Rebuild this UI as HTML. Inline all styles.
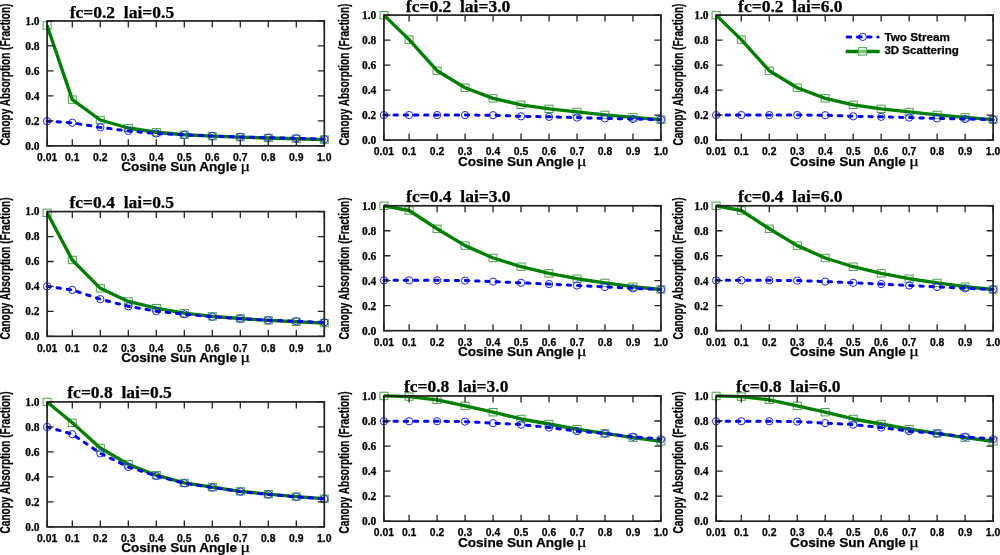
<!DOCTYPE html><html><head><meta charset="utf-8"><style>html,body{margin:0;padding:0;background:#fff;}svg{display:block;filter:blur(0.3px)}.sb{font-family:"Liberation Sans",sans-serif;font-weight:bold}text{stroke:#000;stroke-width:0.25;stroke-linejoin:round}.rb{font-family:"Liberation Serif",serif;font-weight:bold}.rr{font-family:"Liberation Serif",serif;font-weight:normal}</style></head><body>
<svg width="1000" height="555" viewBox="0 0 1000 555">
<rect width="1000" height="555" fill="#fff"/>
<g fill="none" stroke="#4aa44a" stroke-width="1.0"><rect x="43.10" y="21.74" width="8.0" height="7.4"/><rect x="68.30" y="95.95" width="8.0" height="7.4"/><rect x="96.30" y="116.31" width="8.0" height="7.4"/><rect x="124.30" y="124.31" width="8.0" height="7.4"/><rect x="152.30" y="128.55" width="8.0" height="7.4"/><rect x="180.30" y="131.05" width="8.0" height="7.4"/><rect x="208.30" y="132.43" width="8.0" height="7.4"/><rect x="236.30" y="133.42" width="8.0" height="7.4"/><rect x="264.30" y="134.30" width="8.0" height="7.4"/><rect x="292.30" y="135.05" width="8.0" height="7.4"/><rect x="320.30" y="135.92" width="8.0" height="7.4"/></g>
<polyline points="47.10,25.44 72.30,99.65 100.30,120.01 128.30,128.01 156.30,132.25 184.30,134.75 212.30,136.13 240.30,137.12 268.30,138.00 296.30,138.75 324.30,139.62" fill="none" stroke="#008000" stroke-width="3.35" stroke-linejoin="round"/>
<g fill="none" stroke="#2020ff" stroke-width="1.0"><circle cx="47.10" cy="121.13" r="3.65"/><circle cx="72.30" cy="122.76" r="3.65"/><circle cx="100.30" cy="127.38" r="3.65"/><circle cx="128.30" cy="131.00" r="3.65"/><circle cx="156.30" cy="133.50" r="3.65"/><circle cx="184.30" cy="134.88" r="3.65"/><circle cx="212.30" cy="136.00" r="3.65"/><circle cx="240.30" cy="137.00" r="3.65"/><circle cx="268.30" cy="137.75" r="3.65"/><circle cx="296.30" cy="138.37" r="3.65"/><circle cx="324.30" cy="139.12" r="3.65"/></g>
<polyline points="47.10,121.13 72.30,122.76 100.30,127.38 128.30,131.00 156.30,133.50 184.30,134.88 212.30,136.00 240.30,137.00 268.30,137.75 296.30,138.37 324.30,139.12" fill="none" stroke="#0000ff" stroke-width="3.0" stroke-dasharray="3.4 6.8" stroke-dashoffset="0.13" stroke-linejoin="round" stroke-linecap="round"/>
<rect x="47.10" y="20.94" width="277.20" height="124.93" fill="none" stroke="#222" stroke-width="1.7"/>
<path d="M47.10 20.94v6.5M47.10 145.87v-6.5M72.30 20.94v6.5M72.30 145.87v-6.5M100.30 20.94v6.5M100.30 145.87v-6.5M128.30 20.94v6.5M128.30 145.87v-6.5M156.30 20.94v6.5M156.30 145.87v-6.5M184.30 20.94v6.5M184.30 145.87v-6.5M212.30 20.94v6.5M212.30 145.87v-6.5M240.30 20.94v6.5M240.30 145.87v-6.5M268.30 20.94v6.5M268.30 145.87v-6.5M296.30 20.94v6.5M296.30 145.87v-6.5M324.30 20.94v6.5M324.30 145.87v-6.5M47.10 145.87h6.5M324.30 145.87h-6.5M47.10 120.88h6.5M324.30 120.88h-6.5M47.10 95.90h6.5M324.30 95.90h-6.5M47.10 70.91h6.5M324.30 70.91h-6.5M47.10 45.93h6.5M324.30 45.93h-6.5M47.10 20.94h6.5M324.30 20.94h-6.5" stroke="#222" stroke-width="1.3" fill="none"/>
<text class="rb" x="69.70" y="18.14" font-size="16.4" textLength="104.5" lengthAdjust="spacingAndGlyphs" xml:space="preserve">fc=0.2  lai=0.5</text>
<text class="rb" x="39.50" y="149.76" font-size="11.5" text-anchor="end">0.0</text>
<text class="rb" x="39.50" y="124.77" font-size="11.5" text-anchor="end">0.2</text>
<text class="rb" x="39.50" y="99.78" font-size="11.5" text-anchor="end">0.4</text>
<text class="rb" x="39.50" y="74.80" font-size="11.5" text-anchor="end">0.6</text>
<text class="rb" x="39.50" y="49.81" font-size="11.5" text-anchor="end">0.8</text>
<text class="rb" x="39.50" y="24.83" font-size="11.5" text-anchor="end">1.0</text>
<text class="sb" x="47.10" y="161.07" font-size="10.4" text-anchor="middle">0.01</text>
<text class="sb" x="72.30" y="161.07" font-size="10.4" text-anchor="middle">0.1</text>
<text class="sb" x="100.30" y="161.07" font-size="10.4" text-anchor="middle">0.2</text>
<text class="sb" x="128.30" y="161.07" font-size="10.4" text-anchor="middle">0.3</text>
<text class="sb" x="156.30" y="161.07" font-size="10.4" text-anchor="middle">0.4</text>
<text class="sb" x="184.30" y="161.07" font-size="10.4" text-anchor="middle">0.5</text>
<text class="sb" x="212.30" y="161.07" font-size="10.4" text-anchor="middle">0.6</text>
<text class="sb" x="240.30" y="161.07" font-size="10.4" text-anchor="middle">0.7</text>
<text class="sb" x="268.30" y="161.07" font-size="10.4" text-anchor="middle">0.8</text>
<text class="sb" x="296.30" y="161.07" font-size="10.4" text-anchor="middle">0.9</text>
<text class="sb" x="324.30" y="161.07" font-size="10.4" text-anchor="middle">1.0</text>
<text class="sb" x="121.20" y="171.37" font-size="13.6">Cosine Sun Angle</text>
<text class="rr" x="240.40" y="171.37" font-size="15" textLength="9.6" lengthAdjust="spacingAndGlyphs">μ</text>
<g fill="none" stroke="#4aa44a" stroke-width="1.0"><rect x="379.93" y="11.40" width="8.0" height="7.4"/><rect x="405.11" y="35.89" width="8.0" height="7.4"/><rect x="433.09" y="67.01" width="8.0" height="7.4"/><rect x="461.07" y="84.00" width="8.0" height="7.4"/><rect x="489.06" y="94.62" width="8.0" height="7.4"/><rect x="517.04" y="101.12" width="8.0" height="7.4"/><rect x="545.02" y="105.12" width="8.0" height="7.4"/><rect x="573.00" y="108.24" width="8.0" height="7.4"/><rect x="600.98" y="111.24" width="8.0" height="7.4"/><rect x="628.96" y="113.62" width="8.0" height="7.4"/><rect x="656.94" y="115.99" width="8.0" height="7.4"/></g>
<polyline points="383.93,15.10 409.11,39.59 437.09,70.71 465.07,87.70 493.06,98.32 521.04,104.82 549.02,108.82 577.00,111.94 604.98,114.94 632.96,117.32 660.94,119.69" fill="none" stroke="#008000" stroke-width="3.35" stroke-linejoin="round"/>
<g fill="none" stroke="#2020ff" stroke-width="1.0"><circle cx="383.93" cy="115.07" r="3.65"/><circle cx="409.11" cy="115.07" r="3.65"/><circle cx="437.09" cy="115.07" r="3.65"/><circle cx="465.07" cy="115.07" r="3.65"/><circle cx="493.06" cy="115.19" r="3.65"/><circle cx="521.04" cy="116.32" r="3.65"/><circle cx="549.02" cy="116.82" r="3.65"/><circle cx="577.00" cy="117.57" r="3.65"/><circle cx="604.98" cy="118.44" r="3.65"/><circle cx="632.96" cy="118.94" r="3.65"/><circle cx="660.94" cy="119.69" r="3.65"/></g>
<polyline points="383.93,115.07 409.11,115.07 437.09,115.07 465.07,115.07 493.06,115.19 521.04,116.32 549.02,116.82 577.00,117.57 604.98,118.44 632.96,118.94 660.94,119.69" fill="none" stroke="#0000ff" stroke-width="3.0" stroke-dasharray="3.4 6.8" stroke-dashoffset="0.13" stroke-linejoin="round" stroke-linecap="round"/>
<rect x="383.93" y="15.10" width="277.01" height="124.96" fill="none" stroke="#222" stroke-width="1.7"/>
<path d="M383.93 15.10v6.5M383.93 140.06v-6.5M409.11 15.10v6.5M409.11 140.06v-6.5M437.09 15.10v6.5M437.09 140.06v-6.5M465.07 15.10v6.5M465.07 140.06v-6.5M493.06 15.10v6.5M493.06 140.06v-6.5M521.04 15.10v6.5M521.04 140.06v-6.5M549.02 15.10v6.5M549.02 140.06v-6.5M577.00 15.10v6.5M577.00 140.06v-6.5M604.98 15.10v6.5M604.98 140.06v-6.5M632.96 15.10v6.5M632.96 140.06v-6.5M660.94 15.10v6.5M660.94 140.06v-6.5M383.93 140.06h6.5M660.94 140.06h-6.5M383.93 115.07h6.5M660.94 115.07h-6.5M383.93 90.08h6.5M660.94 90.08h-6.5M383.93 65.08h6.5M660.94 65.08h-6.5M383.93 40.09h6.5M660.94 40.09h-6.5M383.93 15.10h6.5M660.94 15.10h-6.5" stroke="#222" stroke-width="1.3" fill="none"/>
<text class="rb" x="405.83" y="11.50" font-size="16.4" textLength="104.5" lengthAdjust="spacingAndGlyphs" xml:space="preserve">fc=0.2  lai=3.0</text>
<text class="rb" x="376.33" y="143.95" font-size="11.5" text-anchor="end">0.0</text>
<text class="rb" x="376.33" y="118.95" font-size="11.5" text-anchor="end">0.2</text>
<text class="rb" x="376.33" y="93.96" font-size="11.5" text-anchor="end">0.4</text>
<text class="rb" x="376.33" y="68.97" font-size="11.5" text-anchor="end">0.6</text>
<text class="rb" x="376.33" y="43.98" font-size="11.5" text-anchor="end">0.8</text>
<text class="rb" x="376.33" y="18.99" font-size="11.5" text-anchor="end">1.0</text>
<text class="sb" x="383.93" y="155.26" font-size="10.4" text-anchor="middle">0.01</text>
<text class="sb" x="409.11" y="155.26" font-size="10.4" text-anchor="middle">0.1</text>
<text class="sb" x="437.09" y="155.26" font-size="10.4" text-anchor="middle">0.2</text>
<text class="sb" x="465.07" y="155.26" font-size="10.4" text-anchor="middle">0.3</text>
<text class="sb" x="493.06" y="155.26" font-size="10.4" text-anchor="middle">0.4</text>
<text class="sb" x="521.04" y="155.26" font-size="10.4" text-anchor="middle">0.5</text>
<text class="sb" x="549.02" y="155.26" font-size="10.4" text-anchor="middle">0.6</text>
<text class="sb" x="577.00" y="155.26" font-size="10.4" text-anchor="middle">0.7</text>
<text class="sb" x="604.98" y="155.26" font-size="10.4" text-anchor="middle">0.8</text>
<text class="sb" x="632.96" y="155.26" font-size="10.4" text-anchor="middle">0.9</text>
<text class="sb" x="660.94" y="155.26" font-size="10.4" text-anchor="middle">1.0</text>
<text class="sb" x="457.94" y="165.56" font-size="13.6">Cosine Sun Angle</text>
<text class="rr" x="577.14" y="165.56" font-size="15" textLength="9.6" lengthAdjust="spacingAndGlyphs">μ</text>
<g fill="none" stroke="#4aa44a" stroke-width="1.0"><rect x="712.10" y="11.40" width="8.0" height="7.4"/><rect x="737.28" y="35.89" width="8.0" height="7.4"/><rect x="765.26" y="67.01" width="8.0" height="7.4"/><rect x="793.24" y="84.00" width="8.0" height="7.4"/><rect x="821.22" y="94.62" width="8.0" height="7.4"/><rect x="849.20" y="101.12" width="8.0" height="7.4"/><rect x="877.18" y="105.12" width="8.0" height="7.4"/><rect x="905.16" y="108.24" width="8.0" height="7.4"/><rect x="933.14" y="111.24" width="8.0" height="7.4"/><rect x="961.12" y="113.62" width="8.0" height="7.4"/><rect x="989.10" y="115.99" width="8.0" height="7.4"/></g>
<polyline points="716.10,15.10 741.28,39.59 769.26,70.71 797.24,87.70 825.22,98.32 853.20,104.82 881.18,108.82 909.16,111.94 937.14,114.94 965.12,117.32 993.10,119.69" fill="none" stroke="#008000" stroke-width="3.35" stroke-linejoin="round"/>
<g fill="none" stroke="#2020ff" stroke-width="1.0"><circle cx="716.10" cy="115.07" r="3.65"/><circle cx="741.28" cy="115.07" r="3.65"/><circle cx="769.26" cy="115.07" r="3.65"/><circle cx="797.24" cy="115.07" r="3.65"/><circle cx="825.22" cy="115.19" r="3.65"/><circle cx="853.20" cy="116.32" r="3.65"/><circle cx="881.18" cy="116.82" r="3.65"/><circle cx="909.16" cy="117.57" r="3.65"/><circle cx="937.14" cy="118.44" r="3.65"/><circle cx="965.12" cy="118.94" r="3.65"/><circle cx="993.10" cy="119.69" r="3.65"/></g>
<polyline points="716.10,115.07 741.28,115.07 769.26,115.07 797.24,115.07 825.22,115.19 853.20,116.32 881.18,116.82 909.16,117.57 937.14,118.44 965.12,118.94 993.10,119.69" fill="none" stroke="#0000ff" stroke-width="3.0" stroke-dasharray="3.4 6.8" stroke-dashoffset="0.13" stroke-linejoin="round" stroke-linecap="round"/>
<rect x="716.10" y="15.10" width="277.00" height="124.96" fill="none" stroke="#222" stroke-width="1.7"/>
<path d="M716.10 15.10v6.5M716.10 140.06v-6.5M741.28 15.10v6.5M741.28 140.06v-6.5M769.26 15.10v6.5M769.26 140.06v-6.5M797.24 15.10v6.5M797.24 140.06v-6.5M825.22 15.10v6.5M825.22 140.06v-6.5M853.20 15.10v6.5M853.20 140.06v-6.5M881.18 15.10v6.5M881.18 140.06v-6.5M909.16 15.10v6.5M909.16 140.06v-6.5M937.14 15.10v6.5M937.14 140.06v-6.5M965.12 15.10v6.5M965.12 140.06v-6.5M993.10 15.10v6.5M993.10 140.06v-6.5M716.10 140.06h6.5M993.10 140.06h-6.5M716.10 115.07h6.5M993.10 115.07h-6.5M716.10 90.08h6.5M993.10 90.08h-6.5M716.10 65.08h6.5M993.10 65.08h-6.5M716.10 40.09h6.5M993.10 40.09h-6.5M716.10 15.10h6.5M993.10 15.10h-6.5" stroke="#222" stroke-width="1.3" fill="none"/>
<text class="rb" x="738.10" y="11.50" font-size="16.4" textLength="104.5" lengthAdjust="spacingAndGlyphs" xml:space="preserve">fc=0.2  lai=6.0</text>
<text class="rb" x="708.50" y="143.95" font-size="11.5" text-anchor="end">0.0</text>
<text class="rb" x="708.50" y="118.95" font-size="11.5" text-anchor="end">0.2</text>
<text class="rb" x="708.50" y="93.96" font-size="11.5" text-anchor="end">0.4</text>
<text class="rb" x="708.50" y="68.97" font-size="11.5" text-anchor="end">0.6</text>
<text class="rb" x="708.50" y="43.98" font-size="11.5" text-anchor="end">0.8</text>
<text class="rb" x="708.50" y="18.99" font-size="11.5" text-anchor="end">1.0</text>
<text class="sb" x="716.10" y="155.26" font-size="10.4" text-anchor="middle">0.01</text>
<text class="sb" x="741.28" y="155.26" font-size="10.4" text-anchor="middle">0.1</text>
<text class="sb" x="769.26" y="155.26" font-size="10.4" text-anchor="middle">0.2</text>
<text class="sb" x="797.24" y="155.26" font-size="10.4" text-anchor="middle">0.3</text>
<text class="sb" x="825.22" y="155.26" font-size="10.4" text-anchor="middle">0.4</text>
<text class="sb" x="853.20" y="155.26" font-size="10.4" text-anchor="middle">0.5</text>
<text class="sb" x="881.18" y="155.26" font-size="10.4" text-anchor="middle">0.6</text>
<text class="sb" x="909.16" y="155.26" font-size="10.4" text-anchor="middle">0.7</text>
<text class="sb" x="937.14" y="155.26" font-size="10.4" text-anchor="middle">0.8</text>
<text class="sb" x="965.12" y="155.26" font-size="10.4" text-anchor="middle">0.9</text>
<text class="sb" x="993.10" y="155.26" font-size="10.4" text-anchor="middle">1.0</text>
<text class="sb" x="790.10" y="165.56" font-size="13.6">Cosine Sun Angle</text>
<text class="rr" x="909.30" y="165.56" font-size="15" textLength="9.6" lengthAdjust="spacingAndGlyphs">μ</text>
<text class="sb" transform="translate(9.70,145.55) rotate(-90)" font-size="13.8" textLength="141.96" lengthAdjust="spacingAndGlyphs">Canopy Absorption (Fraction)</text>
<text class="sb" transform="translate(348.50,145.55) rotate(-90)" font-size="13.8" textLength="141.96" lengthAdjust="spacingAndGlyphs">Canopy Absorption (Fraction)</text>
<text class="sb" transform="translate(682.90,145.55) rotate(-90)" font-size="13.8" textLength="141.96" lengthAdjust="spacingAndGlyphs">Canopy Absorption (Fraction)</text>
<g fill="none" stroke="#4aa44a" stroke-width="1.0"><rect x="43.10" y="209.12" width="8.0" height="7.4"/><rect x="68.30" y="256.29" width="8.0" height="7.4"/><rect x="96.30" y="284.62" width="8.0" height="7.4"/><rect x="124.30" y="297.72" width="8.0" height="7.4"/><rect x="152.30" y="304.46" width="8.0" height="7.4"/><rect x="180.30" y="309.45" width="8.0" height="7.4"/><rect x="208.30" y="312.69" width="8.0" height="7.4"/><rect x="236.30" y="314.82" width="8.0" height="7.4"/><rect x="264.30" y="316.69" width="8.0" height="7.4"/><rect x="292.30" y="318.06" width="8.0" height="7.4"/><rect x="320.30" y="319.43" width="8.0" height="7.4"/></g>
<polyline points="47.10,212.82 72.30,259.99 100.30,288.32 128.30,301.42 156.30,308.16 184.30,313.15 212.30,316.39 240.30,318.52 268.30,320.39 296.30,321.76 324.30,323.13" fill="none" stroke="#008000" stroke-width="3.35" stroke-linejoin="round"/>
<g fill="none" stroke="#2020ff" stroke-width="1.0"><circle cx="47.10" cy="286.32" r="3.65"/><circle cx="72.30" cy="289.94" r="3.65"/><circle cx="100.30" cy="299.17" r="3.65"/><circle cx="128.30" cy="306.29" r="3.65"/><circle cx="156.30" cy="311.15" r="3.65"/><circle cx="184.30" cy="314.27" r="3.65"/><circle cx="212.30" cy="316.77" r="3.65"/><circle cx="240.30" cy="318.64" r="3.65"/><circle cx="268.30" cy="320.26" r="3.65"/><circle cx="296.30" cy="321.26" r="3.65"/><circle cx="324.30" cy="322.38" r="3.65"/></g>
<polyline points="47.10,286.32 72.30,289.94 100.30,299.17 128.30,306.29 156.30,311.15 184.30,314.27 212.30,316.77 240.30,318.64 268.30,320.26 296.30,321.26 324.30,322.38" fill="none" stroke="#0000ff" stroke-width="3.0" stroke-dasharray="3.4 6.8" stroke-dashoffset="0.13" stroke-linejoin="round" stroke-linecap="round"/>
<rect x="47.10" y="211.57" width="277.20" height="124.79" fill="none" stroke="#222" stroke-width="1.7"/>
<path d="M47.10 211.57v6.5M47.10 336.36v-6.5M72.30 211.57v6.5M72.30 336.36v-6.5M100.30 211.57v6.5M100.30 336.36v-6.5M128.30 211.57v6.5M128.30 336.36v-6.5M156.30 211.57v6.5M156.30 336.36v-6.5M184.30 211.57v6.5M184.30 336.36v-6.5M212.30 211.57v6.5M212.30 336.36v-6.5M240.30 211.57v6.5M240.30 336.36v-6.5M268.30 211.57v6.5M268.30 336.36v-6.5M296.30 211.57v6.5M296.30 336.36v-6.5M324.30 211.57v6.5M324.30 336.36v-6.5M47.10 336.36h6.5M324.30 336.36h-6.5M47.10 311.40h6.5M324.30 311.40h-6.5M47.10 286.44h6.5M324.30 286.44h-6.5M47.10 261.49h6.5M324.30 261.49h-6.5M47.10 236.53h6.5M324.30 236.53h-6.5M47.10 211.57h6.5M324.30 211.57h-6.5" stroke="#222" stroke-width="1.3" fill="none"/>
<text class="rb" x="69.50" y="207.97" font-size="16.4" textLength="104.5" lengthAdjust="spacingAndGlyphs" xml:space="preserve">fc=0.4  lai=0.5</text>
<text class="rb" x="39.50" y="340.25" font-size="11.5" text-anchor="end">0.0</text>
<text class="rb" x="39.50" y="315.29" font-size="11.5" text-anchor="end">0.2</text>
<text class="rb" x="39.50" y="290.33" font-size="11.5" text-anchor="end">0.4</text>
<text class="rb" x="39.50" y="265.37" font-size="11.5" text-anchor="end">0.6</text>
<text class="rb" x="39.50" y="240.41" font-size="11.5" text-anchor="end">0.8</text>
<text class="rb" x="39.50" y="215.46" font-size="11.5" text-anchor="end">1.0</text>
<text class="sb" x="47.10" y="351.56" font-size="10.4" text-anchor="middle">0.01</text>
<text class="sb" x="72.30" y="351.56" font-size="10.4" text-anchor="middle">0.1</text>
<text class="sb" x="100.30" y="351.56" font-size="10.4" text-anchor="middle">0.2</text>
<text class="sb" x="128.30" y="351.56" font-size="10.4" text-anchor="middle">0.3</text>
<text class="sb" x="156.30" y="351.56" font-size="10.4" text-anchor="middle">0.4</text>
<text class="sb" x="184.30" y="351.56" font-size="10.4" text-anchor="middle">0.5</text>
<text class="sb" x="212.30" y="351.56" font-size="10.4" text-anchor="middle">0.6</text>
<text class="sb" x="240.30" y="351.56" font-size="10.4" text-anchor="middle">0.7</text>
<text class="sb" x="268.30" y="351.56" font-size="10.4" text-anchor="middle">0.8</text>
<text class="sb" x="296.30" y="351.56" font-size="10.4" text-anchor="middle">0.9</text>
<text class="sb" x="324.30" y="351.56" font-size="10.4" text-anchor="middle">1.0</text>
<text class="sb" x="121.20" y="361.86" font-size="13.6">Cosine Sun Angle</text>
<text class="rr" x="240.40" y="361.86" font-size="15" textLength="9.6" lengthAdjust="spacingAndGlyphs">μ</text>
<g fill="none" stroke="#4aa44a" stroke-width="1.0"><rect x="379.93" y="202.07" width="8.0" height="7.4"/><rect x="405.11" y="206.82" width="8.0" height="7.4"/><rect x="433.09" y="225.05" width="8.0" height="7.4"/><rect x="461.07" y="241.92" width="8.0" height="7.4"/><rect x="489.06" y="254.28" width="8.0" height="7.4"/><rect x="517.04" y="263.03" width="8.0" height="7.4"/><rect x="545.02" y="269.65" width="8.0" height="7.4"/><rect x="573.00" y="275.02" width="8.0" height="7.4"/><rect x="600.98" y="279.26" width="8.0" height="7.4"/><rect x="628.96" y="283.01" width="8.0" height="7.4"/><rect x="656.94" y="285.76" width="8.0" height="7.4"/></g>
<polyline points="383.93,205.77 409.11,210.52 437.09,228.75 465.07,245.62 493.06,257.98 521.04,266.73 549.02,273.35 577.00,278.72 604.98,282.96 632.96,286.71 660.94,289.46" fill="none" stroke="#008000" stroke-width="3.35" stroke-linejoin="round"/>
<g fill="none" stroke="#2020ff" stroke-width="1.0"><circle cx="383.93" cy="280.34" r="3.65"/><circle cx="409.11" cy="280.34" r="3.65"/><circle cx="437.09" cy="280.34" r="3.65"/><circle cx="465.07" cy="280.59" r="3.65"/><circle cx="493.06" cy="281.59" r="3.65"/><circle cx="521.04" cy="282.84" r="3.65"/><circle cx="549.02" cy="284.09" r="3.65"/><circle cx="577.00" cy="285.46" r="3.65"/><circle cx="604.98" cy="286.96" r="3.65"/><circle cx="632.96" cy="288.34" r="3.65"/><circle cx="660.94" cy="289.46" r="3.65"/></g>
<polyline points="383.93,280.34 409.11,280.34 437.09,280.34 465.07,280.59 493.06,281.59 521.04,282.84 549.02,284.09 577.00,285.46 604.98,286.96 632.96,288.34 660.94,289.46" fill="none" stroke="#0000ff" stroke-width="3.0" stroke-dasharray="3.4 6.8" stroke-dashoffset="0.13" stroke-linejoin="round" stroke-linecap="round"/>
<rect x="383.93" y="205.77" width="277.01" height="124.91" fill="none" stroke="#222" stroke-width="1.7"/>
<path d="M383.93 205.77v6.5M383.93 330.68v-6.5M409.11 205.77v6.5M409.11 330.68v-6.5M437.09 205.77v6.5M437.09 330.68v-6.5M465.07 205.77v6.5M465.07 330.68v-6.5M493.06 205.77v6.5M493.06 330.68v-6.5M521.04 205.77v6.5M521.04 330.68v-6.5M549.02 205.77v6.5M549.02 330.68v-6.5M577.00 205.77v6.5M577.00 330.68v-6.5M604.98 205.77v6.5M604.98 330.68v-6.5M632.96 205.77v6.5M632.96 330.68v-6.5M660.94 205.77v6.5M660.94 330.68v-6.5M383.93 330.68h6.5M660.94 330.68h-6.5M383.93 305.70h6.5M660.94 305.70h-6.5M383.93 280.72h6.5M660.94 280.72h-6.5M383.93 255.73h6.5M660.94 255.73h-6.5M383.93 230.75h6.5M660.94 230.75h-6.5M383.93 205.77h6.5M660.94 205.77h-6.5" stroke="#222" stroke-width="1.3" fill="none"/>
<text class="rb" x="406.13" y="202.17" font-size="16.4" textLength="104.5" lengthAdjust="spacingAndGlyphs" xml:space="preserve">fc=0.4  lai=3.0</text>
<text class="rb" x="376.33" y="334.57" font-size="11.5" text-anchor="end">0.0</text>
<text class="rb" x="376.33" y="309.58" font-size="11.5" text-anchor="end">0.2</text>
<text class="rb" x="376.33" y="284.60" font-size="11.5" text-anchor="end">0.4</text>
<text class="rb" x="376.33" y="259.62" font-size="11.5" text-anchor="end">0.6</text>
<text class="rb" x="376.33" y="234.64" font-size="11.5" text-anchor="end">0.8</text>
<text class="rb" x="376.33" y="209.66" font-size="11.5" text-anchor="end">1.0</text>
<text class="sb" x="383.93" y="345.88" font-size="10.4" text-anchor="middle">0.01</text>
<text class="sb" x="409.11" y="345.88" font-size="10.4" text-anchor="middle">0.1</text>
<text class="sb" x="437.09" y="345.88" font-size="10.4" text-anchor="middle">0.2</text>
<text class="sb" x="465.07" y="345.88" font-size="10.4" text-anchor="middle">0.3</text>
<text class="sb" x="493.06" y="345.88" font-size="10.4" text-anchor="middle">0.4</text>
<text class="sb" x="521.04" y="345.88" font-size="10.4" text-anchor="middle">0.5</text>
<text class="sb" x="549.02" y="345.88" font-size="10.4" text-anchor="middle">0.6</text>
<text class="sb" x="577.00" y="345.88" font-size="10.4" text-anchor="middle">0.7</text>
<text class="sb" x="604.98" y="345.88" font-size="10.4" text-anchor="middle">0.8</text>
<text class="sb" x="632.96" y="345.88" font-size="10.4" text-anchor="middle">0.9</text>
<text class="sb" x="660.94" y="345.88" font-size="10.4" text-anchor="middle">1.0</text>
<text class="sb" x="457.94" y="356.18" font-size="13.6">Cosine Sun Angle</text>
<text class="rr" x="577.14" y="356.18" font-size="15" textLength="9.6" lengthAdjust="spacingAndGlyphs">μ</text>
<g fill="none" stroke="#4aa44a" stroke-width="1.0"><rect x="712.10" y="202.07" width="8.0" height="7.4"/><rect x="737.28" y="206.82" width="8.0" height="7.4"/><rect x="765.26" y="225.05" width="8.0" height="7.4"/><rect x="793.24" y="241.92" width="8.0" height="7.4"/><rect x="821.22" y="254.28" width="8.0" height="7.4"/><rect x="849.20" y="263.03" width="8.0" height="7.4"/><rect x="877.18" y="269.65" width="8.0" height="7.4"/><rect x="905.16" y="275.02" width="8.0" height="7.4"/><rect x="933.14" y="279.26" width="8.0" height="7.4"/><rect x="961.12" y="283.01" width="8.0" height="7.4"/><rect x="989.10" y="285.76" width="8.0" height="7.4"/></g>
<polyline points="716.10,205.77 741.28,210.52 769.26,228.75 797.24,245.62 825.22,257.98 853.20,266.73 881.18,273.35 909.16,278.72 937.14,282.96 965.12,286.71 993.10,289.46" fill="none" stroke="#008000" stroke-width="3.35" stroke-linejoin="round"/>
<g fill="none" stroke="#2020ff" stroke-width="1.0"><circle cx="716.10" cy="280.34" r="3.65"/><circle cx="741.28" cy="280.34" r="3.65"/><circle cx="769.26" cy="280.34" r="3.65"/><circle cx="797.24" cy="280.59" r="3.65"/><circle cx="825.22" cy="281.59" r="3.65"/><circle cx="853.20" cy="282.84" r="3.65"/><circle cx="881.18" cy="284.09" r="3.65"/><circle cx="909.16" cy="285.46" r="3.65"/><circle cx="937.14" cy="286.96" r="3.65"/><circle cx="965.12" cy="288.34" r="3.65"/><circle cx="993.10" cy="289.46" r="3.65"/></g>
<polyline points="716.10,280.34 741.28,280.34 769.26,280.34 797.24,280.59 825.22,281.59 853.20,282.84 881.18,284.09 909.16,285.46 937.14,286.96 965.12,288.34 993.10,289.46" fill="none" stroke="#0000ff" stroke-width="3.0" stroke-dasharray="3.4 6.8" stroke-dashoffset="0.13" stroke-linejoin="round" stroke-linecap="round"/>
<rect x="716.10" y="205.77" width="277.00" height="124.91" fill="none" stroke="#222" stroke-width="1.7"/>
<path d="M716.10 205.77v6.5M716.10 330.68v-6.5M741.28 205.77v6.5M741.28 330.68v-6.5M769.26 205.77v6.5M769.26 330.68v-6.5M797.24 205.77v6.5M797.24 330.68v-6.5M825.22 205.77v6.5M825.22 330.68v-6.5M853.20 205.77v6.5M853.20 330.68v-6.5M881.18 205.77v6.5M881.18 330.68v-6.5M909.16 205.77v6.5M909.16 330.68v-6.5M937.14 205.77v6.5M937.14 330.68v-6.5M965.12 205.77v6.5M965.12 330.68v-6.5M993.10 205.77v6.5M993.10 330.68v-6.5M716.10 330.68h6.5M993.10 330.68h-6.5M716.10 305.70h6.5M993.10 305.70h-6.5M716.10 280.72h6.5M993.10 280.72h-6.5M716.10 255.73h6.5M993.10 255.73h-6.5M716.10 230.75h6.5M993.10 230.75h-6.5M716.10 205.77h6.5M993.10 205.77h-6.5" stroke="#222" stroke-width="1.3" fill="none"/>
<text class="rb" x="738.10" y="202.17" font-size="16.4" textLength="104.5" lengthAdjust="spacingAndGlyphs" xml:space="preserve">fc=0.4  lai=6.0</text>
<text class="rb" x="708.50" y="334.57" font-size="11.5" text-anchor="end">0.0</text>
<text class="rb" x="708.50" y="309.58" font-size="11.5" text-anchor="end">0.2</text>
<text class="rb" x="708.50" y="284.60" font-size="11.5" text-anchor="end">0.4</text>
<text class="rb" x="708.50" y="259.62" font-size="11.5" text-anchor="end">0.6</text>
<text class="rb" x="708.50" y="234.64" font-size="11.5" text-anchor="end">0.8</text>
<text class="rb" x="708.50" y="209.66" font-size="11.5" text-anchor="end">1.0</text>
<text class="sb" x="716.10" y="345.88" font-size="10.4" text-anchor="middle">0.01</text>
<text class="sb" x="741.28" y="345.88" font-size="10.4" text-anchor="middle">0.1</text>
<text class="sb" x="769.26" y="345.88" font-size="10.4" text-anchor="middle">0.2</text>
<text class="sb" x="797.24" y="345.88" font-size="10.4" text-anchor="middle">0.3</text>
<text class="sb" x="825.22" y="345.88" font-size="10.4" text-anchor="middle">0.4</text>
<text class="sb" x="853.20" y="345.88" font-size="10.4" text-anchor="middle">0.5</text>
<text class="sb" x="881.18" y="345.88" font-size="10.4" text-anchor="middle">0.6</text>
<text class="sb" x="909.16" y="345.88" font-size="10.4" text-anchor="middle">0.7</text>
<text class="sb" x="937.14" y="345.88" font-size="10.4" text-anchor="middle">0.8</text>
<text class="sb" x="965.12" y="345.88" font-size="10.4" text-anchor="middle">0.9</text>
<text class="sb" x="993.10" y="345.88" font-size="10.4" text-anchor="middle">1.0</text>
<text class="sb" x="790.10" y="356.18" font-size="13.6">Cosine Sun Angle</text>
<text class="rr" x="909.30" y="356.18" font-size="15" textLength="9.6" lengthAdjust="spacingAndGlyphs">μ</text>
<text class="sb" transform="translate(9.70,339.40) rotate(-90)" font-size="13.8" textLength="141.96" lengthAdjust="spacingAndGlyphs">Canopy Absorption (Fraction)</text>
<text class="sb" transform="translate(348.50,339.40) rotate(-90)" font-size="13.8" textLength="141.96" lengthAdjust="spacingAndGlyphs">Canopy Absorption (Fraction)</text>
<text class="sb" transform="translate(682.90,339.40) rotate(-90)" font-size="13.8" textLength="141.96" lengthAdjust="spacingAndGlyphs">Canopy Absorption (Fraction)</text>
<g fill="none" stroke="#4aa44a" stroke-width="1.0"><rect x="43.10" y="398.24" width="8.0" height="7.4"/><rect x="68.30" y="419.12" width="8.0" height="7.4"/><rect x="96.30" y="444.24" width="8.0" height="7.4"/><rect x="124.30" y="460.62" width="8.0" height="7.4"/><rect x="152.30" y="471.49" width="8.0" height="7.4"/><rect x="180.30" y="479.24" width="8.0" height="7.4"/><rect x="208.30" y="483.49" width="8.0" height="7.4"/><rect x="236.30" y="487.62" width="8.0" height="7.4"/><rect x="264.30" y="490.49" width="8.0" height="7.4"/><rect x="292.30" y="492.87" width="8.0" height="7.4"/><rect x="320.30" y="494.99" width="8.0" height="7.4"/></g>
<polyline points="47.10,401.94 72.30,422.81 100.30,447.94 128.30,464.32 156.30,475.19 184.30,482.94 212.30,487.19 240.30,491.32 268.30,494.19 296.30,496.57 324.30,498.69" fill="none" stroke="#008000" stroke-width="3.35" stroke-linejoin="round"/>
<g fill="none" stroke="#2020ff" stroke-width="1.0"><circle cx="47.10" cy="426.94" r="3.65"/><circle cx="72.30" cy="434.19" r="3.65"/><circle cx="100.30" cy="453.32" r="3.65"/><circle cx="128.30" cy="466.94" r="3.65"/><circle cx="156.30" cy="475.94" r="3.65"/><circle cx="184.30" cy="483.19" r="3.65"/><circle cx="212.30" cy="487.57" r="3.65"/><circle cx="240.30" cy="491.57" r="3.65"/><circle cx="268.30" cy="494.44" r="3.65"/><circle cx="296.30" cy="496.82" r="3.65"/><circle cx="324.30" cy="498.94" r="3.65"/></g>
<polyline points="47.10,426.94 72.30,434.19 100.30,453.32 128.30,466.94 156.30,475.94 184.30,483.19 212.30,487.57 240.30,491.57 268.30,494.44 296.30,496.82 324.30,498.94" fill="none" stroke="#0000ff" stroke-width="3.0" stroke-dasharray="3.4 6.8" stroke-dashoffset="0.13" stroke-linejoin="round" stroke-linecap="round"/>
<rect x="47.10" y="401.94" width="277.20" height="125.00" fill="none" stroke="#222" stroke-width="1.7"/>
<path d="M47.10 401.94v6.5M47.10 526.94v-6.5M72.30 401.94v6.5M72.30 526.94v-6.5M100.30 401.94v6.5M100.30 526.94v-6.5M128.30 401.94v6.5M128.30 526.94v-6.5M156.30 401.94v6.5M156.30 526.94v-6.5M184.30 401.94v6.5M184.30 526.94v-6.5M212.30 401.94v6.5M212.30 526.94v-6.5M240.30 401.94v6.5M240.30 526.94v-6.5M268.30 401.94v6.5M268.30 526.94v-6.5M296.30 401.94v6.5M296.30 526.94v-6.5M324.30 401.94v6.5M324.30 526.94v-6.5M47.10 526.94h6.5M324.30 526.94h-6.5M47.10 501.94h6.5M324.30 501.94h-6.5M47.10 476.94h6.5M324.30 476.94h-6.5M47.10 451.94h6.5M324.30 451.94h-6.5M47.10 426.94h6.5M324.30 426.94h-6.5M47.10 401.94h6.5M324.30 401.94h-6.5" stroke="#222" stroke-width="1.3" fill="none"/>
<text class="rb" x="67.30" y="398.34" font-size="16.4" textLength="104.5" lengthAdjust="spacingAndGlyphs" xml:space="preserve">fc=0.8  lai=0.5</text>
<text class="rb" x="39.50" y="530.83" font-size="11.5" text-anchor="end">0.0</text>
<text class="rb" x="39.50" y="505.83" font-size="11.5" text-anchor="end">0.2</text>
<text class="rb" x="39.50" y="480.83" font-size="11.5" text-anchor="end">0.4</text>
<text class="rb" x="39.50" y="455.83" font-size="11.5" text-anchor="end">0.6</text>
<text class="rb" x="39.50" y="430.83" font-size="11.5" text-anchor="end">0.8</text>
<text class="rb" x="39.50" y="405.83" font-size="11.5" text-anchor="end">1.0</text>
<text class="sb" x="47.10" y="542.14" font-size="10.4" text-anchor="middle">0.01</text>
<text class="sb" x="72.30" y="542.14" font-size="10.4" text-anchor="middle">0.1</text>
<text class="sb" x="100.30" y="542.14" font-size="10.4" text-anchor="middle">0.2</text>
<text class="sb" x="128.30" y="542.14" font-size="10.4" text-anchor="middle">0.3</text>
<text class="sb" x="156.30" y="542.14" font-size="10.4" text-anchor="middle">0.4</text>
<text class="sb" x="184.30" y="542.14" font-size="10.4" text-anchor="middle">0.5</text>
<text class="sb" x="212.30" y="542.14" font-size="10.4" text-anchor="middle">0.6</text>
<text class="sb" x="240.30" y="542.14" font-size="10.4" text-anchor="middle">0.7</text>
<text class="sb" x="268.30" y="542.14" font-size="10.4" text-anchor="middle">0.8</text>
<text class="sb" x="296.30" y="542.14" font-size="10.4" text-anchor="middle">0.9</text>
<text class="sb" x="324.30" y="542.14" font-size="10.4" text-anchor="middle">1.0</text>
<text class="sb" x="121.20" y="552.44" font-size="13.6">Cosine Sun Angle</text>
<text class="rr" x="240.40" y="552.44" font-size="15" textLength="9.6" lengthAdjust="spacingAndGlyphs">μ</text>
<g fill="none" stroke="#4aa44a" stroke-width="1.0"><rect x="379.93" y="392.24" width="8.0" height="7.4"/><rect x="405.11" y="392.87" width="8.0" height="7.4"/><rect x="433.09" y="396.12" width="8.0" height="7.4"/><rect x="461.07" y="402.13" width="8.0" height="7.4"/><rect x="489.06" y="408.52" width="8.0" height="7.4"/><rect x="517.04" y="415.29" width="8.0" height="7.4"/><rect x="545.02" y="420.30" width="8.0" height="7.4"/><rect x="573.00" y="425.43" width="8.0" height="7.4"/><rect x="600.98" y="429.69" width="8.0" height="7.4"/><rect x="628.96" y="433.95" width="8.0" height="7.4"/><rect x="656.94" y="437.58" width="8.0" height="7.4"/></g>
<polyline points="383.93,395.94 409.11,396.57 437.09,399.82 465.07,405.83 493.06,412.22 521.04,418.99 549.02,424.00 577.00,429.13 604.98,433.39 632.96,437.65 660.94,441.28" fill="none" stroke="#008000" stroke-width="3.35" stroke-linejoin="round"/>
<g fill="none" stroke="#2020ff" stroke-width="1.0"><circle cx="383.93" cy="421.24" r="3.65"/><circle cx="409.11" cy="421.24" r="3.65"/><circle cx="437.09" cy="421.24" r="3.65"/><circle cx="465.07" cy="421.62" r="3.65"/><circle cx="493.06" cy="423.12" r="3.65"/><circle cx="521.04" cy="424.62" r="3.65"/><circle cx="549.02" cy="427.50" r="3.65"/><circle cx="577.00" cy="431.14" r="3.65"/><circle cx="604.98" cy="433.51" r="3.65"/><circle cx="632.96" cy="436.77" r="3.65"/><circle cx="660.94" cy="439.15" r="3.65"/></g>
<polyline points="383.93,421.24 409.11,421.24 437.09,421.24 465.07,421.62 493.06,423.12 521.04,424.62 549.02,427.50 577.00,431.14 604.98,433.51 632.96,436.77 660.94,439.15" fill="none" stroke="#0000ff" stroke-width="3.0" stroke-dasharray="3.4 6.8" stroke-dashoffset="0.13" stroke-linejoin="round" stroke-linecap="round"/>
<rect x="383.93" y="395.94" width="277.01" height="125.25" fill="none" stroke="#222" stroke-width="1.7"/>
<path d="M383.93 395.94v6.5M383.93 521.19v-6.5M409.11 395.94v6.5M409.11 521.19v-6.5M437.09 395.94v6.5M437.09 521.19v-6.5M465.07 395.94v6.5M465.07 521.19v-6.5M493.06 395.94v6.5M493.06 521.19v-6.5M521.04 395.94v6.5M521.04 521.19v-6.5M549.02 395.94v6.5M549.02 521.19v-6.5M577.00 395.94v6.5M577.00 521.19v-6.5M604.98 395.94v6.5M604.98 521.19v-6.5M632.96 395.94v6.5M632.96 521.19v-6.5M660.94 395.94v6.5M660.94 521.19v-6.5M383.93 521.19h6.5M660.94 521.19h-6.5M383.93 496.14h6.5M660.94 496.14h-6.5M383.93 471.09h6.5M660.94 471.09h-6.5M383.93 446.04h6.5M660.94 446.04h-6.5M383.93 420.99h6.5M660.94 420.99h-6.5M383.93 395.94h6.5M660.94 395.94h-6.5" stroke="#222" stroke-width="1.3" fill="none"/>
<text class="rb" x="403.93" y="392.34" font-size="16.4" textLength="104.5" lengthAdjust="spacingAndGlyphs" xml:space="preserve">fc=0.8  lai=3.0</text>
<text class="rb" x="376.33" y="525.08" font-size="11.5" text-anchor="end">0.0</text>
<text class="rb" x="376.33" y="500.03" font-size="11.5" text-anchor="end">0.2</text>
<text class="rb" x="376.33" y="474.98" font-size="11.5" text-anchor="end">0.4</text>
<text class="rb" x="376.33" y="449.93" font-size="11.5" text-anchor="end">0.6</text>
<text class="rb" x="376.33" y="424.88" font-size="11.5" text-anchor="end">0.8</text>
<text class="rb" x="376.33" y="399.83" font-size="11.5" text-anchor="end">1.0</text>
<text class="sb" x="383.93" y="536.39" font-size="10.4" text-anchor="middle">0.01</text>
<text class="sb" x="409.11" y="536.39" font-size="10.4" text-anchor="middle">0.1</text>
<text class="sb" x="437.09" y="536.39" font-size="10.4" text-anchor="middle">0.2</text>
<text class="sb" x="465.07" y="536.39" font-size="10.4" text-anchor="middle">0.3</text>
<text class="sb" x="493.06" y="536.39" font-size="10.4" text-anchor="middle">0.4</text>
<text class="sb" x="521.04" y="536.39" font-size="10.4" text-anchor="middle">0.5</text>
<text class="sb" x="549.02" y="536.39" font-size="10.4" text-anchor="middle">0.6</text>
<text class="sb" x="577.00" y="536.39" font-size="10.4" text-anchor="middle">0.7</text>
<text class="sb" x="604.98" y="536.39" font-size="10.4" text-anchor="middle">0.8</text>
<text class="sb" x="632.96" y="536.39" font-size="10.4" text-anchor="middle">0.9</text>
<text class="sb" x="660.94" y="536.39" font-size="10.4" text-anchor="middle">1.0</text>
<text class="sb" x="457.94" y="546.69" font-size="13.6">Cosine Sun Angle</text>
<text class="rr" x="577.14" y="546.69" font-size="15" textLength="9.6" lengthAdjust="spacingAndGlyphs">μ</text>
<g fill="none" stroke="#4aa44a" stroke-width="1.0"><rect x="712.10" y="392.24" width="8.0" height="7.4"/><rect x="737.28" y="392.87" width="8.0" height="7.4"/><rect x="765.26" y="396.12" width="8.0" height="7.4"/><rect x="793.24" y="402.13" width="8.0" height="7.4"/><rect x="821.22" y="408.52" width="8.0" height="7.4"/><rect x="849.20" y="415.29" width="8.0" height="7.4"/><rect x="877.18" y="420.30" width="8.0" height="7.4"/><rect x="905.16" y="425.43" width="8.0" height="7.4"/><rect x="933.14" y="429.69" width="8.0" height="7.4"/><rect x="961.12" y="433.95" width="8.0" height="7.4"/><rect x="989.10" y="437.58" width="8.0" height="7.4"/></g>
<polyline points="716.10,395.94 741.28,396.57 769.26,399.82 797.24,405.83 825.22,412.22 853.20,418.99 881.18,424.00 909.16,429.13 937.14,433.39 965.12,437.65 993.10,441.28" fill="none" stroke="#008000" stroke-width="3.35" stroke-linejoin="round"/>
<g fill="none" stroke="#2020ff" stroke-width="1.0"><circle cx="716.10" cy="421.24" r="3.65"/><circle cx="741.28" cy="421.24" r="3.65"/><circle cx="769.26" cy="421.24" r="3.65"/><circle cx="797.24" cy="421.62" r="3.65"/><circle cx="825.22" cy="423.12" r="3.65"/><circle cx="853.20" cy="424.62" r="3.65"/><circle cx="881.18" cy="427.50" r="3.65"/><circle cx="909.16" cy="431.14" r="3.65"/><circle cx="937.14" cy="433.51" r="3.65"/><circle cx="965.12" cy="436.77" r="3.65"/><circle cx="993.10" cy="439.15" r="3.65"/></g>
<polyline points="716.10,421.24 741.28,421.24 769.26,421.24 797.24,421.62 825.22,423.12 853.20,424.62 881.18,427.50 909.16,431.14 937.14,433.51 965.12,436.77 993.10,439.15" fill="none" stroke="#0000ff" stroke-width="3.0" stroke-dasharray="3.4 6.8" stroke-dashoffset="0.13" stroke-linejoin="round" stroke-linecap="round"/>
<rect x="716.10" y="395.94" width="277.00" height="125.25" fill="none" stroke="#222" stroke-width="1.7"/>
<path d="M716.10 395.94v6.5M716.10 521.19v-6.5M741.28 395.94v6.5M741.28 521.19v-6.5M769.26 395.94v6.5M769.26 521.19v-6.5M797.24 395.94v6.5M797.24 521.19v-6.5M825.22 395.94v6.5M825.22 521.19v-6.5M853.20 395.94v6.5M853.20 521.19v-6.5M881.18 395.94v6.5M881.18 521.19v-6.5M909.16 395.94v6.5M909.16 521.19v-6.5M937.14 395.94v6.5M937.14 521.19v-6.5M965.12 395.94v6.5M965.12 521.19v-6.5M993.10 395.94v6.5M993.10 521.19v-6.5M716.10 521.19h6.5M993.10 521.19h-6.5M716.10 496.14h6.5M993.10 496.14h-6.5M716.10 471.09h6.5M993.10 471.09h-6.5M716.10 446.04h6.5M993.10 446.04h-6.5M716.10 420.99h6.5M993.10 420.99h-6.5M716.10 395.94h6.5M993.10 395.94h-6.5" stroke="#222" stroke-width="1.3" fill="none"/>
<text class="rb" x="736.10" y="392.34" font-size="16.4" textLength="104.5" lengthAdjust="spacingAndGlyphs" xml:space="preserve">fc=0.8  lai=6.0</text>
<text class="rb" x="708.50" y="525.08" font-size="11.5" text-anchor="end">0.0</text>
<text class="rb" x="708.50" y="500.03" font-size="11.5" text-anchor="end">0.2</text>
<text class="rb" x="708.50" y="474.98" font-size="11.5" text-anchor="end">0.4</text>
<text class="rb" x="708.50" y="449.93" font-size="11.5" text-anchor="end">0.6</text>
<text class="rb" x="708.50" y="424.88" font-size="11.5" text-anchor="end">0.8</text>
<text class="rb" x="708.50" y="399.83" font-size="11.5" text-anchor="end">1.0</text>
<text class="sb" x="716.10" y="536.39" font-size="10.4" text-anchor="middle">0.01</text>
<text class="sb" x="741.28" y="536.39" font-size="10.4" text-anchor="middle">0.1</text>
<text class="sb" x="769.26" y="536.39" font-size="10.4" text-anchor="middle">0.2</text>
<text class="sb" x="797.24" y="536.39" font-size="10.4" text-anchor="middle">0.3</text>
<text class="sb" x="825.22" y="536.39" font-size="10.4" text-anchor="middle">0.4</text>
<text class="sb" x="853.20" y="536.39" font-size="10.4" text-anchor="middle">0.5</text>
<text class="sb" x="881.18" y="536.39" font-size="10.4" text-anchor="middle">0.6</text>
<text class="sb" x="909.16" y="536.39" font-size="10.4" text-anchor="middle">0.7</text>
<text class="sb" x="937.14" y="536.39" font-size="10.4" text-anchor="middle">0.8</text>
<text class="sb" x="965.12" y="536.39" font-size="10.4" text-anchor="middle">0.9</text>
<text class="sb" x="993.10" y="536.39" font-size="10.4" text-anchor="middle">1.0</text>
<text class="sb" x="790.10" y="546.69" font-size="13.6">Cosine Sun Angle</text>
<text class="rr" x="909.30" y="546.69" font-size="15" textLength="9.6" lengthAdjust="spacingAndGlyphs">μ</text>
<text class="sb" transform="translate(9.70,533.40) rotate(-90)" font-size="13.8" textLength="141.96" lengthAdjust="spacingAndGlyphs">Canopy Absorption (Fraction)</text>
<text class="sb" transform="translate(348.50,533.40) rotate(-90)" font-size="13.8" textLength="141.96" lengthAdjust="spacingAndGlyphs">Canopy Absorption (Fraction)</text>
<text class="sb" transform="translate(682.90,533.40) rotate(-90)" font-size="13.8" textLength="141.96" lengthAdjust="spacingAndGlyphs">Canopy Absorption (Fraction)</text>
<line x1="847.2" y1="36.9" x2="878" y2="36.9" stroke="#0000ff" stroke-width="3.0" stroke-dasharray="3.4 6.8" stroke-linecap="round"/>
<circle cx="862.7" cy="36.9" r="3.65" fill="#fff" stroke="#2020ff" stroke-width="1.0"/>
<line x1="858" y1="36.9" x2="862.5" y2="36.9" stroke="#0000ff" stroke-width="3.0"/>
<line x1="845.7" y1="51.5" x2="879.7" y2="51.5" stroke="#008000" stroke-width="3.35"/>
<rect x="858.6" y="47.699999999999996" width="8.0" height="7.4" fill="#fff" fill-opacity="0.5" stroke="#4aa44a" stroke-width="1.0"/>
<text class="sb" x="884.4" y="40.8" font-size="10.5" textLength="65.6" lengthAdjust="spacingAndGlyphs">Two Stream</text>
<text class="sb" x="884.4" y="54.0" font-size="10.5" textLength="74.4" lengthAdjust="spacingAndGlyphs">3D Scattering</text>
</svg></body></html>
